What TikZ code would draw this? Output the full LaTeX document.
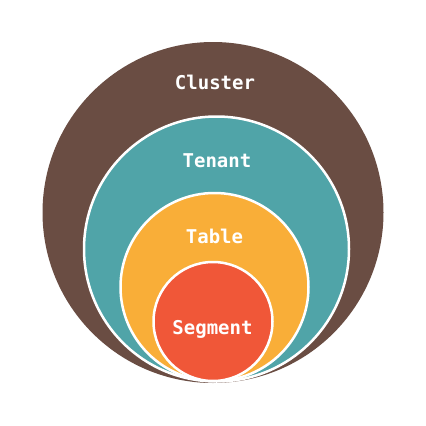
\documentclass[tikz,border=0pt]{standalone}
\usepackage{fontspec}
\setmonofont{DejaVu Sans Mono}
\definecolor{cbrown}{RGB}{106,77,67}
\definecolor{cteal}{RGB}{80,164,168}
\definecolor{corange}{RGB}{249,174,56}
\definecolor{cred}{RGB}{240,87,56}
\begin{document}
\begin{tikzpicture}[x=1pt,y=-1pt,
  ring/.style={circle, inner sep=0pt, outer sep=0pt, draw=white, line width=2.5pt},
  lbl/.style={text=white, font=\ttfamily\bfseries\fontsize{19}{22}\selectfont, anchor=base, inner sep=0pt}]
\useasboundingbox[fill=white] (0,0) rectangle (426,426);
\node[ring, draw=none, fill=cbrown, minimum size=341pt] (cluster) at (213,212.5) {};
\node[ring, fill=cteal, minimum size=265pt] (tenant) at (216.5,249) {};
\node[ring, fill=corange, minimum size=188pt] (table) at (214.5,287) {};
\node[ring, fill=cred, minimum size=119pt] (segment) at (213,321.5) {};
\node[lbl] (lcluster) at (215,89) {Cluster};
\node[lbl] (ltenant) at (217,167) {Tenant};
\node[lbl] (ltable) at (214.5,243) {Table};
\node[lbl] (lsegment) at (212.5,334) {Segment};
\end{tikzpicture}
\end{document}
